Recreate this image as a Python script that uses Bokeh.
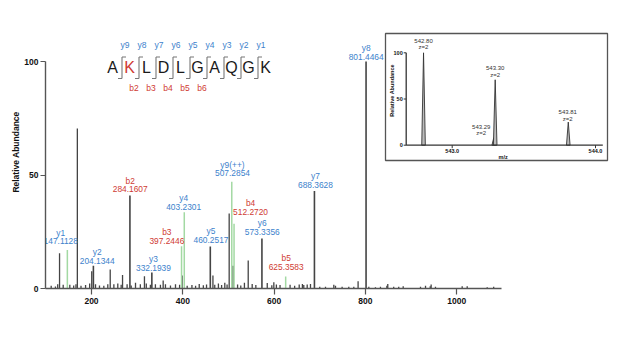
import math
from bokeh.plotting import figure
from bokeh.models import Range1d, LinearAxis, FixedTicker, ColumnDataSource
from bokeh.core.properties import value
from bokeh.embed import file_html
from bokeh.resources import INLINE

# ---------------- data ----------------
# annotated fragment ions of the main MS/MS spectrum
ion_names = ["y1", "y2", "b2", "y3", "b3", "y4", "y5", "y9(++)", "b4", "y6", "b5", "y7", "y8"]
ion_mz = [147.1128, 204.1344, 284.1607, 332.1939, 397.2446, 403.2301, 460.2517,
          507.2854, 512.2720, 573.3356, 625.3583, 688.3628, 801.4464]
ion_intensity = [17.0, 10.0, 41.0, 7.0, 18.6, 33.6, 18.5, 47.0, 28.5, 22.0, 5.3, 43.0, 100.0]
ion_series = ["y", "y", "b", "y", "b", "y", "y", "y", "b", "y", "b", "y", "y"]
ion_green = [True, False, False, False, True, True, False, True, True, False, True, False, False]

# unannotated peaks of the main spectrum
peak_mz = [130.0, 169.0, 200.5, 241.0, 268.0, 316.0, 357.0, 398.5, 466.0, 501.6, 510.0,
           543.3, 599.4, 784.0,
           111.7, 121.0, 126.0, 138.0, 152.5, 161.0, 166.0, 177.0, 187.0, 196.0, 208.8,
           217.5, 227.0, 235.7, 249.0, 257.6, 265.0, 278.0, 287.0, 296.4, 307.0, 320.0,
           329.0, 340.0, 351.0, 362.0, 373.0, 384.0, 393.0, 409.6, 420.0, 428.0, 436.0,
           445.0, 452.0, 470.0, 478.0, 485.0, 492.0, 497.0, 520.0, 527.0, 535.0, 552.0,
           560.0, 585.0, 595.0, 605.0, 613.0, 635.0, 645.0, 655.0, 662.0, 665.0, 672.5,
           679.7, 700.0, 712.6, 730.8, 734.5, 749.0, 763.6, 774.6, 807.5, 822.0, 833.0,
           847.0, 849.0, 862.0, 873.0, 882.8, 920.7, 931.7, 942.0, 944.0, 953.5, 1012.0,
           1023.0, 1066.8, 1081.0]
peak_intensity = [15.5, 70.5, 7.6, 8.4, 6.0, 5.4, 3.5, 5.7, 5.7, 33.0, 10.0,
                  12.3, 2.8, 3.2,
                  1.2, 0.9, 1.9, 1.6, 1.6, 1.3, 1.9, 1.2, 1.5, 2.2, 1.9,
                  1.3, 1.2, 1.9, 1.9, 2.2, 1.6, 1.9, 1.3, 2.5, 1.9, 2.2,
                  1.6, 1.9, 1.6, 1.9, 1.3, 1.9, 1.6, 1.2, 1.5, 1.2, 2.0,
                  1.4, 1.8, 1.6, 2.2, 1.5, 2.5, 1.8, 1.8, 1.3, 2.5, 2.0,
                  1.5, 2.4, 1.4, 1.8, 1.5, 1.6, 1.2, 1.8, 2.0, 1.5, 1.8,
                  2.0, 0.8, 0.8, 1.6, 1.2, 0.8, 0.8, 0.8, 0.8, 0.6, 0.8,
                  1.2, 2.0, 0.8, 0.8, 1.0, 0.8, 1.2, 1.0, 1.8, 0.8, 1.0,
                  1.0, 0.6, 0.8]

x_ticks = [200, 400, 600, 800, 1000]
y_ticks = [0, 50, 100]

# peptide sequence and fragment labels
sequence = ["A", "K", "L", "D", "L", "G", "A", "Q", "G", "K"]
modified_residue = [False, True, False, False, False, False, False, False, False, False]
y_ion_labels = ["y9", "y8", "y7", "y6", "y5", "y4", "y3", "y2", "y1"]
b_ion_labels = ["b2", "b3", "b4", "b5", "b6"]
b_ion_gap = [1, 2, 3, 4, 5]

# inset: precursor isotope envelope
inset_mz = [542.80, 543.29, 543.30, 543.81]
inset_intensity = [100.0, 8.0, 70.8, 25.0]
inset_labels = ["542.80", "543.29", "543.30", "543.81"]
inset_charge = ["z=2", "z=2", "z=2", "z=2"]
inset_x_ticks = [543.0, 544.0]
inset_y_ticks = [0, 50, 100]

# ---------------- layout constants ----------------
W, H = 631, 340
FL, FR, FT, FB = 45, 615, 15, 288          # frame in pixels
MZ_PX = 0.4565                              # px per m/z
MZ100_PX = 45.35                            # pixel of m/z 100
INT_PX = 2.27                               # px per % intensity
x_start = 100 + (FL - MZ100_PX) / MZ_PX
x_end = 100 + (FR - MZ100_PX) / MZ_PX
x_axis_end = 1098
y_end = (FB - FT) / INT_PX

# inset scales
I_TICK_PX = 451.7        # pixel of m/z 543.0
I_MZ_PX = 143.3          # px per m/z
I_ZERO_PY = 144.7        # pixel row of 0 %
I_INT_PX = 0.924         # px per %
ix_start = 543.0 + (FL - I_TICK_PX) / I_MZ_PX
ix_end = 543.0 + (FR - I_TICK_PX) / I_MZ_PX
iy_start = (I_ZERO_PY - FB) / I_INT_PX
iy_end = (I_ZERO_PY - FT) / I_INT_PX
i_axis_x0 = 543.0 + (405.7 - I_TICK_PX) / I_MZ_PX
i_axis_x1 = 543.0 + (602.3 - I_TICK_PX) / I_MZ_PX

# sequence placement
SEQ_X0, SEQ_DX = 112.0, 17.0

FONT = value("Liberation Sans")
BLUE = "#3d82cc"
RED = "#cf3b33"
PEAK = "#444444"
GREEN = "#a3d9a3"

p = figure(width=W, height=H, output_backend="svg", toolbar_location=None,
           x_range=Range1d(x_start, x_end), y_range=Range1d(0, y_end),
           x_axis_type=None, y_axis_type=None,
           min_border_left=FL, min_border_right=W - FR,
           min_border_top=FT, min_border_bottom=H - FB)
p.outline_line_color = None
p.background_fill_color = "white"
p.border_fill_color = "white"

p.extra_x_ranges = {
    "ix": Range1d(ix_start, ix_end),
    "seq": Range1d((FL - SEQ_X0) / SEQ_DX, (FR - SEQ_X0) / SEQ_DX),
    "px": Range1d(FL, FR),
}
p.extra_y_ranges = {
    "iy": Range1d(iy_start, iy_end),
    "py": Range1d(FB, FT),
}

# ---------------- axes ----------------
xaxis = LinearAxis(bounds=(x_start, x_axis_end), ticker=FixedTicker(ticks=x_ticks))
yaxis = LinearAxis(bounds=(0, 100), ticker=FixedTicker(ticks=y_ticks),
                   axis_label="Relative Abundance")
for ax in (xaxis, yaxis):
    ax.axis_line_color = "#555555"
    ax.axis_line_width = 1.4
    ax.major_tick_line_color = "#555555"
    ax.major_tick_line_width = 1.2
    ax.major_tick_in = 0
    ax.minor_tick_line_color = None
    ax.major_label_text_font = "Liberation Sans"
    ax.major_label_text_font_style = "bold"
    ax.major_label_text_font_size = "8.5px"
    ax.major_label_text_color = "#111111"
xaxis.major_tick_out = 6
xaxis.major_label_standoff = 3
yaxis.major_tick_out = 5
yaxis.major_label_standoff = 2
yaxis.axis_label_text_font = "Liberation Sans"
yaxis.axis_label_text_font_style = "bold"
yaxis.axis_label_text_font_size = "8.5px"
yaxis.axis_label_text_color = "#111111"
yaxis.axis_label_standoff = 0
p.add_layout(xaxis, "below")
p.add_layout(yaxis, "left")

# ---------------- main spectrum ----------------
p.segment(x0="mz", y0=0, x1="mz", y1="h",
          source=ColumnDataSource(dict(mz=peak_mz, h=peak_intensity)),
          line_color=PEAK, line_width=1.3)

ion_line_colors = [GREEN if g else PEAK for g in ion_green]
ion_line_widths = [1.5 if g else 1.6 for g in ion_green]
p.segment(x0="mz", y0=0, x1="mz", y1="h",
          source=ColumnDataSource(dict(mz=ion_mz, h=ion_intensity, c=ion_line_colors,
                                       w=ion_line_widths)),
          line_color="c", line_width="w")

# ion labels (pixel offsets of the label block relative to the peak top)
label_dx = [-6.6, 3.8, 0.3, 1.6, -14.7, -0.6, 0.7, 0.7, 16.5, 0.3, 0.5, 1.0, 0.1]
label_dy = [8.6, 5.3, 6.0, 4.8, 5.0, 5.7, 6.7, 8.4, 11.6, 6.3, 9.3, 5.7, 4.7]
LINE_GAP = 8.8
lab_x = [m + dx / MZ_PX for m, dx in zip(ion_mz, label_dx)]
lab_y_mz = [h + dy / INT_PX for h, dy in zip(ion_intensity, label_dy)]
lab_y_name = [h + (dy + LINE_GAP) / INT_PX for h, dy in zip(ion_intensity, label_dy)]
lab_col = [BLUE if s == "y" else RED for s in ion_series]
lab_src = ColumnDataSource(dict(x=lab_x, ym=lab_y_mz, yn=lab_y_name,
                                name=ion_names, mzt=["%.4f" % m for m in ion_mz],
                                c=lab_col))
for ycol, tcol in (("ym", "mzt"), ("yn", "name")):
    p.text(x="x", y=ycol, text=tcol, source=lab_src, text_color="c",
           text_font=FONT, text_font_size="8.4px", text_align="center",
           text_baseline="middle")

# ---------------- peptide sequence ----------------
LET_PY = 66.5
n = len(sequence)
p.text(x=list(range(n)), y=[LET_PY] * n, text=sequence,
       text_color=[RED if m else "#1a1a1a" for m in modified_residue],
       text_font=FONT, text_font_size="16px", text_align="center",
       text_baseline="middle", x_range_name="seq", y_range_name="py")

GAP_OFF = 7.5 / SEQ_DX
gaps = [i + 1 - GAP_OFF for i in range(n - 1)]
HOOK = 4.0 / SEQ_DX
TOP_PY, BOT_PY = 56.5, 78.0
p.segment(x0=gaps, y0=[TOP_PY] * len(gaps), x1=gaps, y1=[BOT_PY] * len(gaps),
          line_color="#777777", line_width=1.1, x_range_name="seq", y_range_name="py")
p.segment(x0=gaps, y0=[TOP_PY] * len(gaps), x1=[g + HOOK for g in gaps],
          y1=[TOP_PY] * len(gaps), line_color="#777777", line_width=1.1,
          x_range_name="seq", y_range_name="py")
p.segment(x0=[g - HOOK for g in gaps], y0=[BOT_PY] * len(gaps), x1=gaps,
          y1=[BOT_PY] * len(gaps), line_color="#777777", line_width=1.1,
          x_range_name="seq", y_range_name="py")
p.text(x=[g + 3.0 / SEQ_DX for g in gaps], y=[44.0] * len(gaps), text=y_ion_labels,
       text_color=BLUE, text_font=FONT, text_font_size="8.5px", text_align="center",
       text_baseline="middle", x_range_name="seq", y_range_name="py")
p.text(x=[gaps[i] - 5.0 / SEQ_DX for i in b_ion_gap], y=[87.5] * len(b_ion_gap),
       text=b_ion_labels, text_color=RED, text_font=FONT, text_font_size="8.5px",
       text_align="center", text_baseline="middle", x_range_name="seq",
       y_range_name="py")

# ---------------- inset ----------------
p.quad(left=[385], right=[607], top=[33], bottom=[160], fill_color="white",
       line_color="#555555", line_width=1.3, x_range_name="px", y_range_name="py")

HW = 1.8 / I_MZ_PX
xs = [[m - HW, m, m + HW] for m in inset_mz]
ys = [[0, h, 0] for h in inset_intensity]
p.patches(xs=xs, ys=ys, fill_color="#bbbbbb", line_color="#333333", line_width=0.9,
          x_range_name="ix", y_range_name="iy")

# inset axes
p.segment(x0=[i_axis_x0, i_axis_x0], y0=[0, 0], x1=[i_axis_x0, i_axis_x1], y1=[100, 0],
          line_color="#333333", line_width=1.3, x_range_name="ix", y_range_name="iy")
tick_l = 2.5 / I_MZ_PX
p.segment(x0=[i_axis_x0 - tick_l] * 3, y0=inset_y_ticks, x1=[i_axis_x0] * 3,
          y1=inset_y_ticks, line_color="#333333", line_width=1.0,
          x_range_name="ix", y_range_name="iy")
p.segment(x0=inset_x_ticks, y0=[0, 0], x1=inset_x_ticks, y1=[-3.0 / I_INT_PX] * 2,
          line_color="#333333", line_width=1.0, x_range_name="ix", y_range_name="iy")
p.text(x=[i_axis_x0 - 3.5 / I_MZ_PX] * 3, y=inset_y_ticks,
       text=[str(t) for t in inset_y_ticks], text_color="#111111", text_font=FONT,
       text_font_style="bold", text_font_size="5.5px", text_align="right",
       text_baseline="middle", x_range_name="ix", y_range_name="iy")
p.text(x=inset_x_ticks, y=[-6.0 / I_INT_PX] * 2, text=["%.1f" % t for t in inset_x_ticks],
       text_color="#111111", text_font=FONT, text_font_style="bold",
       text_font_size="5.5px", text_align="center", text_baseline="middle",
       x_range_name="ix", y_range_name="iy")
p.text(x=[502.7], y=[156.0], text=["m/z"], text_color="#111111", text_font=FONT,
       text_font_style="bold", text_font_size="5.5px", text_align="center",
       text_baseline="middle", x_range_name="px", y_range_name="py")
p.text(x=[391.5], y=[90.0], text=["Relative Abundance"], angle=math.pi / 2,
       text_color="#111111", text_font=FONT, text_font_style="bold",
       text_font_size="5.5px", text_align="center", text_baseline="middle",
       x_range_name="px", y_range_name="py")

# inset peak labels
ilab_dx = [0.0, -12.5, 0.0, -0.5]
ilab_dy = [2.8, 1.5, 2.0, 0.5]
il_x = [m + dx / I_MZ_PX for m, dx in zip(inset_mz, ilab_dx)]
il_yz = [h + (dy + 3.0) / I_INT_PX for h, dy in zip(inset_intensity, ilab_dy)]
il_yl = [h + (dy + 9.5) / I_INT_PX for h, dy in zip(inset_intensity, ilab_dy)]
p.text(x=il_x, y=il_yl, text=inset_labels, text_color="#333333", text_font=FONT,
       text_font_size="6px", text_align="center", text_baseline="middle",
       x_range_name="ix", y_range_name="iy")
p.text(x=il_x, y=il_yz, text=inset_charge, text_color="#333333", text_font=FONT,
       text_font_size="6px", text_align="center", text_baseline="middle",
       x_range_name="ix", y_range_name="iy")

open("out.html", "w").write(file_html(p, INLINE))
